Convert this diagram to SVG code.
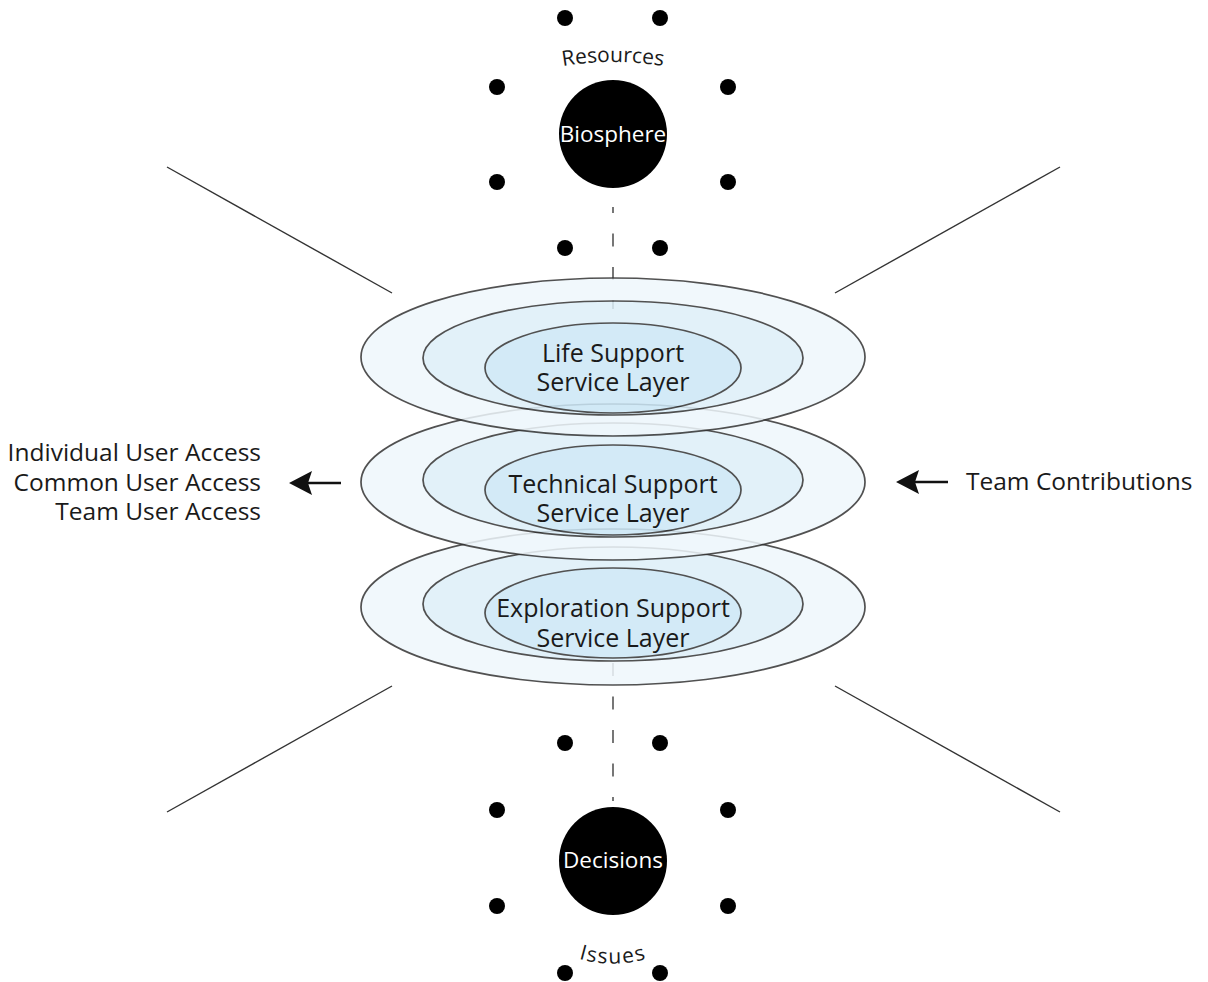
<svg xmlns="http://www.w3.org/2000/svg" width="1208" height="982" viewBox="0 0 1208 982">
  <style>
    .lbl { font-family: "Open Sans", "Noto Sans", "DejaVu Sans", sans-serif; font-size: 24.5px; fill: #1a1a1a; }
    .layer { font-size: 25px; }
    .side { text-anchor: end; }
    .mid { text-anchor: middle; }
    .hub { font-family: "Open Sans", "Noto Sans", "DejaVu Sans", sans-serif; font-size: 22.5px; fill: #ffffff; text-anchor: middle; }
    .arc { font-family: "Open Sans", "Noto Sans", "DejaVu Sans", sans-serif; font-size: 21px; fill: #1a1a1a; }
    .ring { stroke: #333333; stroke-width: 1.7; }
    .outer { fill: #eff7fc; }
    .middle { fill: #ddeff9; }
    .inner { fill: #cce7f6; }
    .dot { fill: #000000; }
    .ray { stroke: #333333; stroke-width: 1.4; fill: none; }
    .dash { stroke: #555555; stroke-width: 1.6; stroke-dasharray: 13 20.5; fill: none; }
    .shaft { stroke: #111111; stroke-width: 2.6; fill: none; }
  </style>
  <defs>
    <path id="arcTop" d="M 493 87 A 300 300 0 0 1 733 87"/>
    <path id="arcBottom" d="M 513 910 A 120 120 0 0 0 713 910"/>
  </defs>

  <rect width="1208" height="982" fill="#ffffff"/>

  <!-- diagonal rays, dashed axis and side arrows -->
  <g id="connectors">
    <line class="ray" x1="167" y1="167" x2="392" y2="293"/>
    <line class="ray" x1="1060" y1="167" x2="835" y2="293"/>
    <line class="ray" x1="392" y1="686" x2="167" y2="812"/>
    <line class="ray" x1="835" y1="686" x2="1060" y2="812"/>
    <line class="dash" x1="613" y1="207" x2="613" y2="309" stroke-dashoffset="7"/>
    <line class="dash" x1="613" y1="663" x2="613" y2="801" stroke-dasharray="20 13 14 21 14 21 14 21 14"/>
    <line class="shaft" x1="341" y1="483" x2="306" y2="483"/>
    <polygon points="289,483 312,471 308,483 312,495" fill="#111111"/>
    <line class="shaft" x1="948" y1="482" x2="913" y2="482"/>
    <polygon points="896,482 919,470 915,482 919,494" fill="#111111"/>
  </g>

  <!-- bottom layer -->
  <g id="layer-exploration">
    <g opacity="0.85">
      <ellipse class="ring outer" cx="613" cy="607" rx="252" ry="78"/>
      <ellipse class="ring middle" cx="613" cy="604" rx="190" ry="57"/>
      <ellipse class="ring inner" cx="613" cy="613" rx="128" ry="45"/>
    </g>
    <text class="lbl layer mid" x="613" y="617">Exploration Support</text>
    <text class="lbl layer mid" x="613" y="647">Service Layer</text>
  </g>

  <!-- middle layer -->
  <g id="layer-technical">
    <g opacity="0.85">
      <ellipse class="ring outer" cx="613" cy="482" rx="252" ry="78"/>
      <ellipse class="ring middle" cx="613" cy="480" rx="190" ry="57"/>
      <ellipse class="ring inner" cx="613" cy="490" rx="128" ry="45"/>
    </g>
    <text class="lbl layer mid" x="613" y="493">Technical Support</text>
    <text class="lbl layer mid" x="613" y="522">Service Layer</text>
  </g>

  <!-- top layer -->
  <g id="layer-life">
    <g opacity="0.85">
      <ellipse class="ring outer" cx="613" cy="357" rx="252" ry="79"/>
      <ellipse class="ring middle" cx="613" cy="358" rx="190" ry="57"/>
      <ellipse class="ring inner" cx="613" cy="368" rx="128" ry="45"/>
    </g>
    <text class="lbl layer mid" x="613" y="362">Life Support</text>
    <text class="lbl layer mid" x="613" y="391">Service Layer</text>
  </g>

  <!-- upper hub -->
  <g id="biosphere">
    <circle cx="613" cy="134" r="54" fill="#000000"/>
    <text class="hub" x="613" y="142">Biosphere</text>
    <text class="arc"><textPath href="#arcTop" startOffset="50%" text-anchor="middle">Resources</textPath></text>
    <circle class="dot" cx="565" cy="18" r="8"/>
    <circle class="dot" cx="660" cy="18" r="8"/>
    <circle class="dot" cx="497" cy="87" r="8"/>
    <circle class="dot" cx="728" cy="87" r="8"/>
    <circle class="dot" cx="497" cy="182" r="8"/>
    <circle class="dot" cx="728" cy="182" r="8"/>
    <circle class="dot" cx="565" cy="248" r="8"/>
    <circle class="dot" cx="660" cy="248" r="8"/>
  </g>

  <!-- lower hub -->
  <g id="decisions">
    <circle cx="613" cy="861" r="54" fill="#000000"/>
    <text class="hub" x="613" y="868">Decisions</text>
    <text class="arc" letter-spacing="1.5"><textPath href="#arcBottom" startOffset="50%" text-anchor="middle">Issues</textPath></text>
    <circle class="dot" cx="565" cy="743" r="8"/>
    <circle class="dot" cx="660" cy="743" r="8"/>
    <circle class="dot" cx="497" cy="810" r="8"/>
    <circle class="dot" cx="728" cy="810" r="8"/>
    <circle class="dot" cx="497" cy="906" r="8"/>
    <circle class="dot" cx="728" cy="906" r="8"/>
    <circle class="dot" cx="565" cy="973" r="8"/>
    <circle class="dot" cx="660" cy="973" r="8"/>
  </g>

  <!-- access labels -->
  <g id="access">
    <text class="lbl side" x="261" y="461">Individual User Access</text>
    <text class="lbl side" x="261" y="491">Common User Access</text>
    <text class="lbl side" x="261" y="520">Team User Access</text>
  </g>

  <g id="contributions">
    <text class="lbl" x="966" y="490">Team Contributions</text>
  </g>
</svg>
